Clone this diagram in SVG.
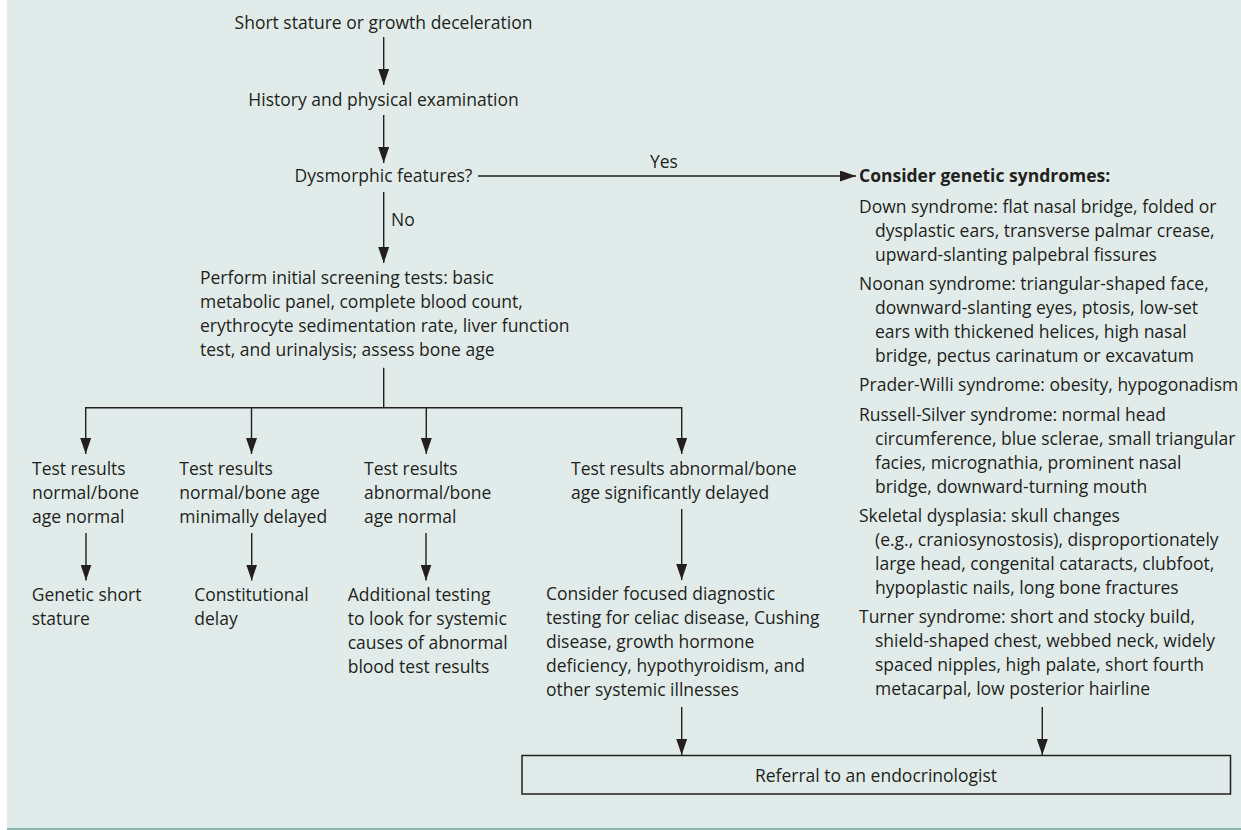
<svg xmlns="http://www.w3.org/2000/svg" width="1241" height="830" viewBox="0 0 1241 830">
<style>
text{font-family:"Open Sans","Noto Sans","Liberation Sans",sans-serif;font-size:17.5px;fill:#231f20}
.c{text-anchor:middle}
.b{font-weight:bold}
.ln{stroke:#231f20;stroke-width:1.4;fill:none}
.ar{stroke:#231f20;stroke-width:1.4;fill:none;marker-end:url(#ah)}
</style>
<defs>
<marker id="ah" markerUnits="userSpaceOnUse" markerWidth="16" markerHeight="11" refX="16" refY="5.5" orient="auto">
<path d="M0,0 L16,5.5 L0,11 Z" fill="#231f20"/>
</marker>
</defs>
<rect x="0" y="0" width="1241" height="830" fill="#ffffff"/>
<rect x="7" y="0" width="1234" height="828" fill="#e1ecea"/>
<line x1="7" y1="829" x2="1241" y2="829" stroke="#8ab5ad" stroke-width="2"/>

<g id="connectors">
<line class="ar" x1="383.7" y1="37" x2="383.7" y2="85"/>
<line class="ar" x1="383.7" y1="115" x2="383.7" y2="163"/>
<line class="ar" x1="383.7" y1="192" x2="383.7" y2="263"/>
<line class="ar" x1="478" y1="176" x2="856" y2="176"/>
<line class="ln" x1="383.7" y1="367.7" x2="383.7" y2="407.7"/>
<line class="ln" x1="85.7" y1="407.7" x2="681.7" y2="407.7"/>
<line class="ar" x1="85.7" y1="407" x2="85.7" y2="454"/>
<line class="ar" x1="251.5" y1="407" x2="251.5" y2="454"/>
<line class="ar" x1="426.3" y1="407" x2="426.3" y2="454"/>
<line class="ar" x1="681.7" y1="407" x2="681.7" y2="454"/>
<line class="ar" x1="86" y1="533" x2="86" y2="580.5"/>
<line class="ar" x1="251.7" y1="533" x2="251.7" y2="580.5"/>
<line class="ar" x1="426" y1="533" x2="426" y2="580.5"/>
<line class="ar" x1="681.7" y1="509" x2="681.7" y2="580"/>
<line class="ar" x1="681.7" y1="707" x2="681.7" y2="755"/>
<line class="ar" x1="1042.3" y1="707" x2="1042.3" y2="755"/>
<text x="650" y="168">Yes</text>
<text x="391" y="225.7">No</text>
</g>

<g id="n-start"><text class="c" x="383.5" y="29.3">Short stature or growth deceleration</text></g>
<g id="n-history"><text class="c" x="383.5" y="106">History and physical examination</text></g>
<g id="n-dysmorphic"><text class="c" x="383.5" y="181.7">Dysmorphic features?</text></g>

<g id="n-screening">
<text x="200" y="284">Perform initial screening tests: basic</text>
<text x="200" y="308">metabolic panel, complete blood count,</text>
<text x="200" y="332">erythrocyte sedimentation rate, liver function</text>
<text x="200" y="356">test, and urinalysis; assess bone age</text>
</g>

<g id="n-col1">
<text x="32" y="475">Test results</text>
<text x="32" y="499">normal/bone</text>
<text x="32" y="523">age normal</text>
</g>
<g id="n-col2">
<text x="179.3" y="475">Test results</text>
<text x="179.3" y="499">normal/bone age</text>
<text x="179.3" y="523">minimally delayed</text>
</g>
<g id="n-col3">
<text x="364" y="475">Test results</text>
<text x="364" y="499">abnormal/bone</text>
<text x="364" y="523">age normal</text>
</g>
<g id="n-col4">
<text x="571" y="475">Test results abnormal/bone</text>
<text x="571" y="499">age significantly delayed</text>
</g>

<g id="n-genetic">
<text x="31.7" y="601">Genetic short</text>
<text x="31.7" y="625">stature</text>
</g>
<g id="n-constitutional">
<text x="194.3" y="601">Constitutional</text>
<text x="194.3" y="625">delay</text>
</g>
<g id="n-additional">
<text x="347.7" y="601">Additional testing</text>
<text x="347.7" y="625">to look for systemic</text>
<text x="347.7" y="649">causes of abnormal</text>
<text x="347.7" y="673">blood test results</text>
</g>
<g id="n-focused">
<text x="546" y="600">Consider focused diagnostic</text>
<text x="546" y="624">testing for celiac disease, Cushing</text>
<text x="546" y="648">disease, growth hormone</text>
<text x="546" y="672">deficiency, hypothyroidism, and</text>
<text x="546" y="696">other systemic illnesses</text>
</g>

<g id="n-syndromes">
<text class="b" x="859" y="181.7">Consider genetic syndromes:</text>
<text x="859" y="212.5">Down syndrome: flat nasal bridge, folded or</text>
<text x="875" y="236.5">dysplastic ears, transverse palmar crease,</text>
<text x="875" y="260.5">upward-slanting palpebral fissures</text>
<text x="859" y="290">Noonan syndrome: triangular-shaped face,</text>
<text x="875" y="314">downward-slanting eyes, ptosis, low-set</text>
<text x="875" y="338">ears with thickened helices, high nasal</text>
<text x="875" y="362">bridge, pectus carinatum or excavatum</text>
<text x="859" y="391">Prader-Willi syndrome: obesity, hypogonadism</text>
<text x="859" y="420.5">Russell-Silver syndrome: normal head</text>
<text x="875" y="444.5">circumference, blue sclerae, small triangular</text>
<text x="875" y="468.5">facies, micrognathia, prominent nasal</text>
<text x="875" y="492.5">bridge, downward-turning mouth</text>
<text x="859" y="521.7">Skeletal dysplasia: skull changes</text>
<text x="875" y="545.7">(e.g., craniosynostosis), disproportionately</text>
<text x="875" y="569.7">large head, congenital cataracts, clubfoot,</text>
<text x="875" y="593.7">hypoplastic nails, long bone fractures</text>
<text x="859" y="623.3">Turner syndrome: short and stocky build,</text>
<text x="875" y="647.3">shield-shaped chest, webbed neck, widely</text>
<text x="875" y="671.3">spaced nipples, high palate, short fourth</text>
<text x="875" y="695.3">metacarpal, low posterior hairline</text>
</g>

<g id="n-referral">
<rect x="522" y="755.5" width="708.5" height="38.5" fill="none" stroke="#231f20" stroke-width="1.5"/>
<text class="c" x="876" y="781.7">Referral to an endocrinologist</text>
</g>
</svg>
